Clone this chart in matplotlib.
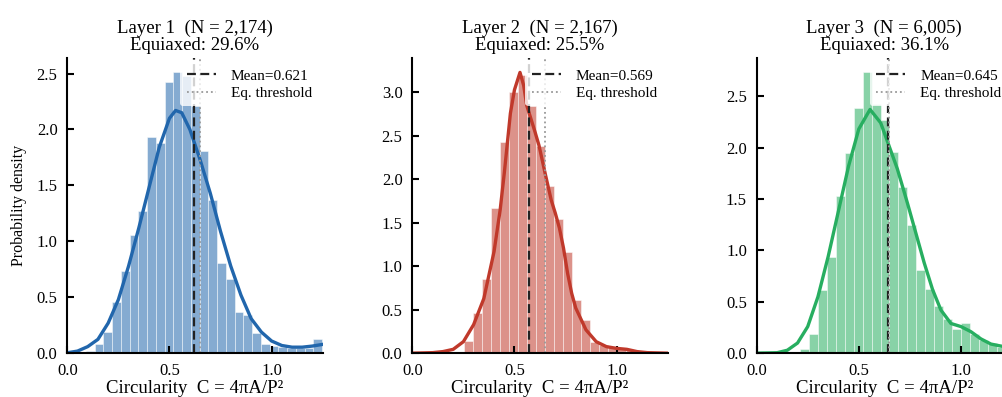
import numpy as np
import matplotlib
matplotlib.use("Agg")
import matplotlib.pyplot as plt

plt.rcParams['font.family'] = ['Liberation Serif', 'DejaVu Serif']

# layer info
layers = ["Layer 1", "Layer 2", "Layer 3"]
counts = ["2,174", "2,167", "6,005"]
equiaxed = [29.6, 25.5, 36.1]
means = [0.621, 0.569, 0.645]
threshold = 0.65
colors = ["#2166ac", "#c0392b", "#27ae60"]

# histogram densities
bin_start = [0.0915, 0.208, 0.213]
bin_width = [0.0428, 0.0442, 0.0437]
dens1 = [0.02, 0.084, 0.19, 0.46, 0.74, 1.06, 1.27, 1.93, 1.88, 2.42, 2.51, 2.48,
         2.21, 1.81, 1.37, 0.81, 0.66, 0.37, 0.34, 0.185, 0.084, 0.066, 0.06,
         0.045, 0.045, 0.045, 0.13]
dens2 = [0.01, 0.14, 0.46, 0.85, 1.67, 2.43, 3.01, 3.2, 2.84, 2.38, 1.92, 1.54,
         1.17, 0.61, 0.38, 0.134, 0.096, 0.077, 0.057, 0.04, 0.01]
dens3 = [0.04, 0.19, 0.62, 0.94, 1.53, 1.95, 2.38, 2.73, 2.42, 2.27, 1.96, 1.62,
         1.25, 0.81, 0.63, 0.46, 0.33, 0.24, 0.29, 0.19, 0.13, 0.10, 0.065, 0.05]

# kde curves
kde1_x = [0.0, 0.05, 0.1, 0.15, 0.2, 0.25, 0.3, 0.35, 0.4, 0.45, 0.5, 0.53, 0.56,
          0.6, 0.65, 0.7, 0.75, 0.8, 0.85, 0.9, 0.95, 1.0, 1.05, 1.1, 1.15, 1.2, 1.25]
kde1_y = [0.005, 0.02, 0.06, 0.125, 0.27, 0.48, 0.78, 1.12, 1.48, 1.84, 2.10, 2.17,
          2.15, 2.0, 1.73, 1.43, 1.09, 0.78, 0.52, 0.31, 0.19, 0.11, 0.07, 0.055,
          0.055, 0.065, 0.08]
kde2_x = [0.0, 0.1, 0.15, 0.2, 0.25, 0.3, 0.35, 0.4, 0.43, 0.45, 0.48, 0.5, 0.527,
          0.545, 0.56, 0.58, 0.6, 0.62, 0.65, 0.68, 0.7, 0.72, 0.74, 0.76, 0.78,
          0.8, 0.85, 0.9, 0.95, 1.0, 1.05, 1.1, 1.15, 1.25]
kde2_y = [0.002, 0.008, 0.02, 0.046, 0.134, 0.33, 0.63, 1.17, 1.65, 2.07, 2.76,
          3.03, 3.23, 3.08, 2.85, 2.70, 2.55, 2.39, 2.07, 1.76, 1.61, 1.44, 1.21,
          0.92, 0.69, 0.52, 0.27, 0.134, 0.077, 0.057, 0.046, 0.02, 0.008, 0.002]
kde3_x = [0.0, 0.1, 0.15, 0.2, 0.25, 0.3, 0.35, 0.4, 0.45, 0.5, 0.555, 0.607, 0.64,
          0.689, 0.738, 0.779, 0.82, 0.861, 0.902, 0.951, 1.0, 1.049, 1.098, 1.147,
          1.21, 1.25]
kde3_y = [0.002, 0.006, 0.03, 0.10, 0.26, 0.55, 0.94, 1.38, 1.82, 2.18, 2.37, 2.24,
          2.06, 1.79, 1.46, 1.17, 0.88, 0.62, 0.42, 0.29, 0.26, 0.21, 0.14, 0.09,
          0.065, 0.055]

dens = [dens1, dens2, dens3]
kdes = [(kde1_x, kde1_y), (kde2_x, kde2_y), (kde3_x, kde3_y)]

fig = plt.figure(figsize=(10.03, 3.97), dpi=100)
lefts = [0.0671, 0.4111, 0.7544]

for i in range(3):
    ax = fig.add_axes([lefts[i], 0.110, 0.2546, 0.743])
    edges = bin_start[i] + bin_width[i] * np.arange(len(dens[i]))
    ax.bar(edges, dens[i], width=bin_width[i], align='edge', color=colors[i],
           alpha=0.55, edgecolor='white', linewidth=0.6)
    ax.plot(kdes[i][0], kdes[i][1], color=colors[i], lw=2.4, solid_joinstyle='round')
    ax.axvline(means[i], color='#222222', ls=(0, (4, 2)), lw=1.6,
               label='Mean=%.3f' % means[i])
    ax.axvline(threshold, color='#999999', ls=':', lw=1.3, label='Eq. threshold')
    ax.set_xlim(0, 1.25)
    ax.set_xticks([0.0, 0.5, 1.0])
    ax.set_xlabel('Circularity  C = 4πA/P²', fontsize=13.5, labelpad=1)
    ax.set_title('%s  (N = %s)\nEquiaxed: %.1f%%' % (layers[i], counts[i], equiaxed[i]),
                 fontsize=13.5, linespacing=1.0, pad=6)
    if i == 0:
        ax.set_ylabel('Probability density', fontsize=11.5, labelpad=7)
    ax.spines['top'].set_visible(False)
    ax.spines['right'].set_visible(False)
    ax.spines['left'].set_linewidth(1.5)
    ax.spines['bottom'].set_linewidth(1.5)
    ax.tick_params(direction='in', length=5, width=1.5, labelsize=12, pad=7)
    leg = ax.legend(loc='upper right', fontsize=11, frameon=True, framealpha=0.8,
                    edgecolor='none', borderaxespad=0.3, labelspacing=0.25,
                    handlelength=1.9, handletextpad=1.0)

fig.savefig('out.png', dpi=100)
